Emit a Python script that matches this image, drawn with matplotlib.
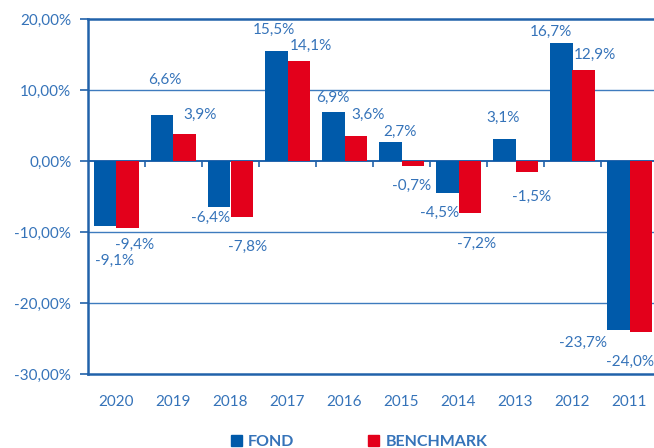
import numpy as np
import matplotlib
matplotlib.use('Agg')
import matplotlib.pyplot as plt
from matplotlib.patches import Patch

# data
years = ['2020', '2019', '2018', '2017', '2016', '2015', '2014', '2013', '2012', '2011']
fond = [-9.1, 6.6, -6.4, 15.5, 6.9, 2.7, -4.5, 3.1, 16.7, -23.7]
benchmark = [-9.4, 3.9, -7.8, 14.1, 3.6, -0.7, -7.2, -1.5, 12.9, -24.0]

# label offsets in pixels from the bar end, as placed in the original
fond_off = [(9, -35), (3, 35), (-9, -11), (-2, 22), (0, 15), (10, 10), (-8, -20), (-1, 22), (-10, 11), (-35, -13)]
bench_off = [(7, -17), (15, 19), (6, -30), (12, 15), (12, 21), (-1, -20), (7, -31), (5, -25), (11, 15), (-11, -30)]

BLUE = '#005AAA'
RED = '#E3001B'
TXT = '#3573B9'
AX = '#2162AA'

plt.rcParams['font.family'] = ['Lato', 'DejaVu Sans']

fig = plt.figure(figsize=(6.54, 4.48), dpi=100)
ax = fig.add_axes([88 / 654, (448 - 374.3) / 448, 570 / 654, 354.8 / 448])

x = np.arange(len(years))
w = 0.4
ax.bar(x - w / 2, fond, w, color=BLUE, zorder=3, label='FOND')
ax.bar(x + w / 2, benchmark, w, color=RED, zorder=3, label='BENCHMARK')

def fmt(v):
    return f'{v:.1f}%'.replace('.', ',')

for xi, v, (dx, dy) in zip(x - w / 2, fond, fond_off):
    ax.annotate(fmt(v), (xi, v), xytext=(dx, dy), textcoords='offset pixels',
                ha='center', va='center', color=TXT, fontsize=11, zorder=4)
for xi, v, (dx, dy) in zip(x + w / 2, benchmark, bench_off):
    ax.annotate(fmt(v), (xi, v), xytext=(dx, dy), textcoords='offset pixels',
                ha='center', va='center', color=TXT, fontsize=11, zorder=4)

ax.set_ylim(-30, 20)
ax.set_xlim(-0.5, len(years) - 0.5)
ax.set_yticks(np.arange(-30, 21, 10))
ax.set_yticklabels([f'{t:.2f}%'.replace('.', ',') for t in np.arange(-30, 21, 10)])
ax.tick_params(axis='y', colors=AX, labelcolor=TXT, labelsize=11, length=6, width=1.2, pad=6)
ax.set_xticks(x)
ax.set_xticklabels(years)
ax.tick_params(axis='x', length=0, labelcolor=TXT, labelsize=11, pad=15)

# grid
for t in [-20, -10, 10]:
    ax.axhline(t, color='#3E7BBE', lw=1.0, zorder=1)
ax.axhline(0, color=AX, lw=1.4, zorder=2)
ax.vlines(np.arange(0.5, len(years) - 0.5, 1), -0.8, 0, color=AX, lw=1.2, zorder=2)

for s in ['left', 'top', 'bottom', 'right']:
    ax.spines[s].set_color(AX)
    ax.spines[s].set_linewidth(1.8)

fig.legend(handles=[Patch(color=BLUE, label='FOND'), Patch(color=RED, label='BENCHMARK')],
           loc='center', bbox_to_anchor=(0.549, 0.013), ncol=2, frameon=False,
           handlelength=0.7, handleheight=0.7, handletextpad=0.4, columnspacing=4.6,
           prop={'weight': 'bold', 'size': 11.5})
for t in fig.legends[0].get_texts():
    t.set_color(TXT)

fig.savefig('out.png', dpi=100)
